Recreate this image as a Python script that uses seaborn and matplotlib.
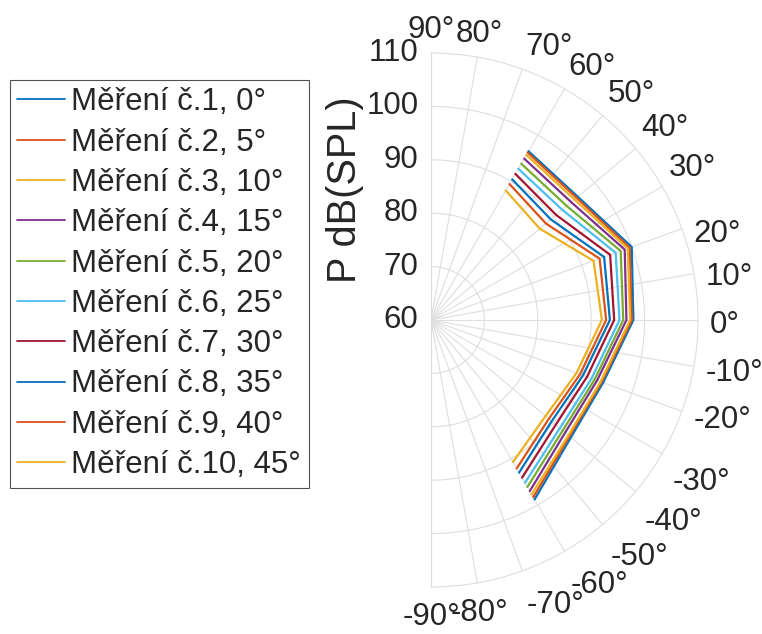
import numpy as np
import pandas as pd
import matplotlib
matplotlib.use("Agg")
import matplotlib.pyplot as plt
import seaborn as sns

# ---- data ----
angles_deg = [60, 40, 20, 0, -20, -40, -60]
series_labels = ["Měření č.1, 0°", "Měření č.2, 5°", "Měření č.3, 10°", "Měření č.4, 15°",
                 "Měření č.5, 20°", "Měření č.6, 25°", "Měření č.7, 30°", "Měření č.8, 35°",
                 "Měření č.9, 40°", "Měření č.10, 45°"]
m1 = [96.5, 95.9, 100.0, 97.9, 94.3, 94.2, 98.8]
m2 = [96.2, 95.6, 99.6, 97.6, 94.0, 93.85, 98.3]
m3 = [95.7, 95.1, 99.2, 97.3, 93.8, 93.6, 97.7]
m4 = [94.9, 94.3, 98.6, 96.6, 93.1, 92.8, 97.0]
m5 = [93.8, 93.2, 97.8, 96.0, 92.6, 92.2, 96.1]
m6 = [92.7, 92.1, 96.8, 95.3, 92.0, 91.5, 95.2]
m7 = [91.6, 90.6, 95.7, 94.3, 91.1, 90.5, 94.1]
m8 = [90.4, 89.3, 94.5, 93.5, 90.3, 89.5, 93.0]
m9 = [89.4, 88.1, 93.6, 92.8, 89.7, 88.8, 92.1]
m10 = [88.0, 86.6, 92.4, 92.0, 89.0, 88.0, 90.7]
all_series = [m1, m2, m3, m4, m5, m6, m7, m8, m9, m10]
r_ticks = [60, 70, 80, 90, 100, 110]
theta_ticks = list(range(-90, 91, 10))
r_label = "P dB(SPL)"

colors = ["#0072BD", "#D95319", "#EDB120", "#7E2F8E", "#77AC30", "#4DBEEE", "#A2142F",
          "#0072BD", "#D95319", "#EDB120"]

sns.set_style("white")
plt.rcParams["font.family"] = ["Liberation Sans", "DejaVu Sans"]

rows = []
for lab, vals in zip(series_labels, all_series):
    for a, v in zip(angles_deg, vals):
        rows.append({"series": lab, "theta": np.deg2rad(a), "r": v})
df = pd.DataFrame(rows)

W, H = 762, 634
fig = plt.figure(figsize=(W / 100, H / 100), dpi=100)
cx, cy, R = 431, 320, 267
# square box; the half-disk is fitted and centred inside it
ax = fig.add_axes([(cx - R / 2) / W, (H - cy - R) / H, 2 * R / W, 2 * R / H],
                  projection="polar")
ax.set_thetamin(-90)
ax.set_thetamax(90)
ax.set_rlim(60, 110)

sns.lineplot(data=df, x="theta", y="r", hue="series", hue_order=series_labels,
             palette=colors, sort=False, estimator=None, legend=False,
             linewidth=1.6, ax=ax)
ax.set_xlabel("")
ax.set_ylabel("")

grid_c = "#DEDEDE"
ax.set_xticks(np.deg2rad(theta_ticks))
ax.set_yticks([70, 80, 90, 100])
ax.set_xticklabels([])
ax.set_yticklabels([])
ax.grid(True, color=grid_c, linewidth=0.8)
ax.tick_params(length=0)
for sp in ax.spines.values():
    sp.set_color(grid_c)
    sp.set_linewidth(0.8)

txt_c = "#262626"
fs = 22.5
for rv in r_ticks:
    ax.annotate(str(rv), xy=(np.pi / 2, rv), xycoords="data", xytext=(-9, 0),
                textcoords="offset points", ha="right", va="center", fontsize=fs,
                color=txt_c, annotation_clip=False)

px_per_r = R / 50.0
pt = 72.0 / 100.0  # points per pixel
for a in theta_ticks:
    ha = "center" if abs(a) >= 80 else "left"
    if a >= 30:
        va, d, dy = "bottom", 8, 0
    elif a <= -30:
        va, d = "top", 12
        dy = -3 if a <= -80 else -8
    else:
        va, d, dy = "center", 12, (-9 if a == 20 else -5)
    ax.annotate(f"{a}°", xy=(np.deg2rad(a), 110 + d / px_per_r), xycoords="data",
                xytext=(0, dy * pt), textcoords="offset points", ha=ha, va=va,
                fontsize=fs, color=txt_c, annotation_clip=False)

fig.text(345 / W, 1 - 190 / H, r_label, rotation=90, ha="center", va="center",
         fontsize=28.5, color=txt_c)

handles = ax.get_lines()[:len(series_labels)]
leg = fig.legend(handles, series_labels, loc="upper left",
                 bbox_to_anchor=(9.5 / W, 1 - 79.5 / H), fontsize=22.5,
                 frameon=True, fancybox=False, handlelength=1.54, handletextpad=0.18,
                 labelspacing=0.33, borderpad=0.25, borderaxespad=0.0)
leg.get_frame().set_edgecolor("#262626")
leg.get_frame().set_linewidth(0.8)
for lh in leg.get_lines():
    lh.set_linewidth(1.3)

fig.savefig("out.png", dpi=100)
